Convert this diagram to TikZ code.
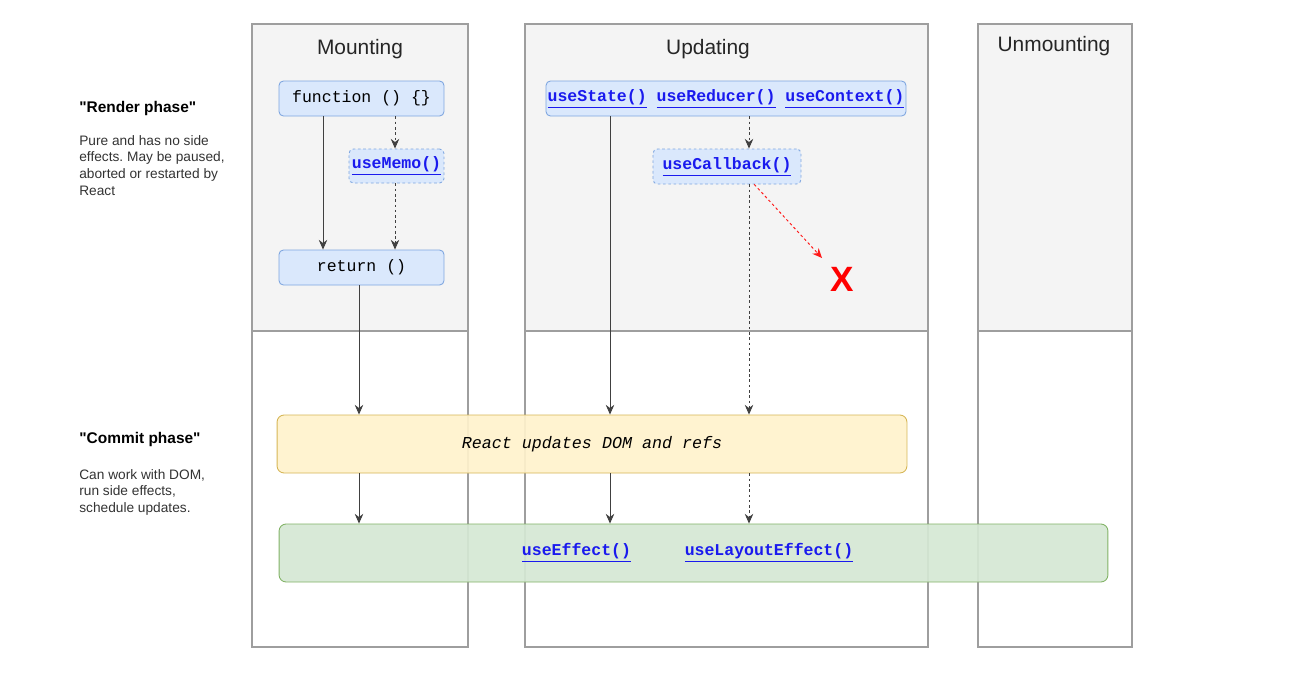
\documentclass[tikz,border=0pt]{standalone}
\usepackage{fontspec}
\setmainfont{Liberation Sans}
\setmonofont{Liberation Mono}
\newfontfamily\plainsans{Liberation Sans}[Ligatures=TeXOff]
\usetikzlibrary{arrows.meta}
\definecolor{colline}{HTML}{9E9E9E}
\definecolor{colgrey}{HTML}{F4F4F4}
\definecolor{bfill}{HTML}{DAE8FC}
\definecolor{bdraw}{HTML}{7EA6E0}
\definecolor{yfill}{HTML}{FFF2CC}
\definecolor{ydraw}{HTML}{D6B656}
\definecolor{gfill}{HTML}{D5E8D4}
\definecolor{gdraw}{HTML}{82B366}
\definecolor{linkc}{HTML}{1A1AEE}
\newcommand{\lnk}[1]{\underline{#1}}
\frenchspacing
\tikzset{
  colbox/.style={draw=colline, line width=0.6pt},
  title/.style={font=\fontsize{11.9pt}{13pt}\selectfont, text=black!85},
  bbox/.style={draw=bdraw, fill=bfill, rounded corners=2.5pt, line width=0.5pt, inner sep=0pt,
    font=\ttfamily\fontsize{9.4pt}{10pt}\selectfont},
  dbox/.style={bbox, dash pattern=on 1.5pt off 1.5pt},
  linktext/.style={text=linkc, font=\ttfamily\bfseries\fontsize{9.4pt}{10pt}\selectfont},
  arr/.style={draw=black!75, line width=0.55pt, -{Stealth[length=5.5pt,width=4.8pt]}},
  darr/.style={arr, dash pattern=on 1.5pt off 1.5pt},
  side/.style={anchor=north west, align=left, font=\fontsize{7.8pt}{9.5pt}\selectfont, text=black!80, inner sep=0pt},
  sidehead/.style={anchor=west, font=\plainsans\bfseries\fontsize{8.8pt}{10pt}\selectfont, inner sep=0pt},
}
\begin{document}
\begin{tikzpicture}[x=0.02cm,y=-0.02cm]
\useasboundingbox (0,0) rectangle (1297,680);
% columns
\foreach \a/\b in {252/468, 525/928, 978/1132}{
  \draw[colbox, fill=colgrey] (\a,24) rectangle (\b,331);
  \draw[colbox, fill=white] (\a,331) rectangle (\b,647);
}
\node[title] (tmount) at (360,49) {Mounting};
\node[title] (tupd) at (708,49) {Updating};
\node[title] (tunm) at (1054,46) {Unmounting};

% side texts
\node[sidehead] (rh) at (79,108) {"Render phase"};
\node[side] (rt) at (79,135) {Pure and has no side\\effects. May be paused,\\aborted or restarted by\\React};
\node[sidehead] (ch) at (79,439) {"Commit phase"};
\node[side] (ct) at (79,469) {Can work with DOM,\\run side effects,\\schedule updates.};

% boxes
\node[bbox, minimum width=3.3cm, minimum height=0.7cm] (fn) at (361.5,98.5) {function () \{\}};
\node[dbox, linktext, minimum width=1.9cm, minimum height=0.68cm] (memo) at (396.5,166) {\lnk{useMemo()}};
\node[bbox, minimum width=3.3cm, minimum height=0.7cm] (ret) at (361.5,267.5) {return ()};
\node[bbox, linktext, minimum width=7.2cm, minimum height=0.7cm] (state) at (726,98.5) {\lnk{useState()} \lnk{useReducer()} \lnk{useContext()}};
\node[dbox, linktext, minimum width=2.96cm, minimum height=0.7cm] (cb) at (727,166.5) {\lnk{useCallback()}};
\node[draw=ydraw, fill=yfill, fill opacity=0.92, text opacity=1, rounded corners=4pt, line width=0.5pt, minimum width=12.6cm, minimum height=1.16cm, font=\ttfamily\itshape\fontsize{9.5pt}{10pt}\selectfont] (dom) at (592,444) {React updates DOM and refs};
\node[draw=gdraw, fill=gfill, fill opacity=0.92, rounded corners=4pt, line width=0.5pt, minimum width=16.58cm, minimum height=1.16cm] (eff) at (693.5,553) {};
\node[linktext, inner sep=0pt] (ueff) at (576.5,553) {\lnk{useEffect()}};
\node[linktext, inner sep=0pt] (ulay) at (769,553) {\lnk{useLayoutEffect()}};
\node[text=red, font=\bfseries\fontsize{20pt}{21pt}\selectfont, inner sep=0pt] (xm) at (842,279) {X};

% x positions
\coordinate (xa) at (323,0);
\coordinate (xb) at (395,0);
\coordinate (xc) at (359,0);
\coordinate (xd) at (610,0);
\coordinate (xe) at (749,0);
\coordinate (rend) at (822,258);

% arrows
\draw[arr] (fn.south -| xa) -- (ret.north -| xa);
\draw[darr] (fn.south -| xb) -- (memo.north -| xb);
\draw[darr] (memo.south -| xb) -- (ret.north -| xb);
\draw[arr] (ret.south -| xc) -- (dom.north -| xc);
\draw[arr] (dom.south -| xc) -- (eff.north -| xc);
\draw[arr] (state.south -| xd) -- (dom.north -| xd);
\draw[arr] (dom.south -| xd) -- (eff.north -| xd);
\draw[darr] (state.south -| xe) -- (cb.north -| xe);
\draw[darr] (cb.south -| xe) -- (dom.north -| xe);
\draw[darr] (dom.south -| xe) -- (eff.north -| xe);
\draw[darr, draw=red!90] ([xshift=3pt]cb.south -| xe) -- (rend);
\end{tikzpicture}
\end{document}
